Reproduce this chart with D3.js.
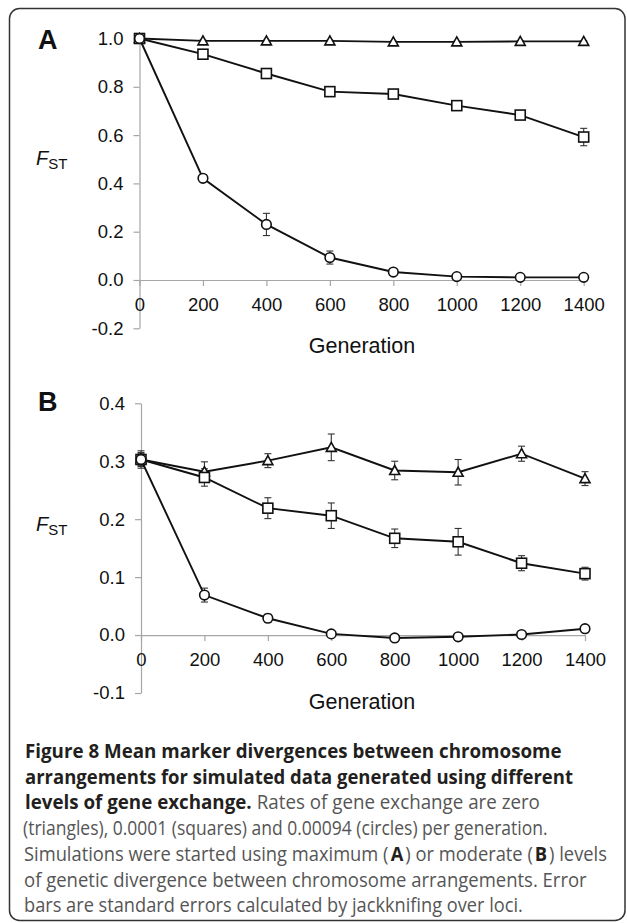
<!DOCTYPE html>
<html><head><meta charset="utf-8">
<script src="https://cdn.jsdelivr.net/npm/d3@7"></script>
<style>
html,body{margin:0;padding:0;background:#fff;}
svg{display:block;}
</style></head>
<body>
<svg id="fig" width="627" height="923"></svg>
<script>
// ---- data ----
const generations = [0, 200, 400, 600, 800, 1000, 1200, 1400];
const xTicks = [0, 200, 400, 600, 800, 1000, 1200, 1400];

// Panel A
const yTicksA = [-0.2, 0, 0.2, 0.4, 0.6, 0.8, 1.0];
const triA   = [1.0, 0.990, 0.990, 0.990, 0.986, 0.986, 0.988, 0.988];
const triAse = [0.003, 0.003, 0.003, 0.003, 0.003, 0.003, 0.003, 0.003];
const sqA    = [1.0, 0.935, 0.855, 0.780, 0.770, 0.722, 0.683, 0.592];
const sqAse  = [0.003, 0.005, 0.006, 0.006, 0.006, 0.008, 0.015, 0.036];
const ciA    = [1.0, 0.421, 0.230, 0.093, 0.033, 0.014, 0.011, 0.011];
const ciAse  = [0.003, 0.006, 0.046, 0.027, 0.007, 0.004, 0.003, 0.003];

// Panel B
const yTicksB = [-0.1, 0, 0.1, 0.2, 0.3, 0.4];
const triB   = [0.303, 0.282, 0.301, 0.324, 0.284, 0.281, 0.313, 0.270];
const triBse = [0.015, 0.017, 0.012, 0.023, 0.016, 0.022, 0.013, 0.012];
const sqB    = [0.303, 0.272, 0.219, 0.206, 0.167, 0.161, 0.124, 0.106];
const sqBse  = [0.012, 0.015, 0.018, 0.022, 0.016, 0.023, 0.013, 0.011];
const ciB    = [0.303, 0.069, 0.029, 0.002, -0.005, -0.003, 0.001, 0.011];
const ciBse  = [0.010, 0.012, 0.007, 0.003, 0.003, 0.003, 0.003, 0.003];

const captionLines = [
  [{t:"Figure 8 Mean marker divergences between chromosome", b:true}],
  [{t:"arrangements for simulated data generated using different", b:true}],
  [{t:"levels of gene exchange.", b:true}, {t:"Rates of gene exchange are zero", b:false}],
  [{t:"(triangles), 0.0001 (squares) and 0.00094 (circles) per generation.", b:false}],
  [{t:"Simulations were started using maximum (", b:false}, {t:"A", b:true}, {t:") or moderate (", b:false}, {t:"B", b:true}, {t:") levels", b:false}],
  [{t:"of genetic divergence between chromosome arrangements. Error", b:false}],
  [{t:"bars are standard errors calculated by jackknifing over loci.", b:false}]
];

// ---- drawing ----
const svg = d3.select("#fig");
const AX = "Liberation Sans, Arial, Helvetica, sans-serif";

svg.append("rect").attr("x", 9.5).attr("y", 8.5).attr("width", 615.5).attr("height", 912)
  .attr("rx", 10).attr("ry", 10).attr("fill", "none").attr("stroke", "#333").attr("stroke-width", 1.5);

function panel(cfg) {
  const x = d3.scaleLinear().domain([0, 1400]).range(cfg.xr);
  const y = d3.scaleLinear().domain(cfg.yd).range(cfg.yr);
  const g = svg.append("g");

  const ya = g.append("g").attr("transform", `translate(${cfg.xr[0]},0)`)
    .call(d3.axisLeft(y).tickValues(cfg.yTicks).tickSize(6).tickSizeOuter(0).tickPadding(10)
      .tickFormat(d3.format(".1f")));
  const xa = g.append("g").attr("transform", `translate(0,${y(0)})`)
    .call(d3.axisBottom(x).tickValues(xTicks).tickSize(6).tickSizeOuter(0).tickPadding(12)
      .tickFormat(d3.format("d")));
  [ya, xa].forEach(a => {
    a.select(".domain").attr("stroke", "#a6a6a6").attr("stroke-width", 1.2);
    a.selectAll(".tick line").attr("stroke", "#a6a6a6").attr("stroke-width", 1.2);
    a.selectAll(".tick text").attr("fill", "#111").attr("font-family", AX).attr("font-size", 18.5);
  });
  ya.selectAll(".tick text").text(d => d3.format(".1f")(d).replace("−", "-"));

  g.append("text").attr("x", 38).attr("y", cfg.letterY).text(cfg.letter)
    .attr("font-family", AX).attr("font-weight", "bold").attr("font-size", 27).attr("fill", "#111");
  const f = g.append("text").attr("x", 36).attr("y", cfg.fY).attr("font-family", AX).attr("fill", "#111");
  f.append("tspan").text("F").attr("font-style", "italic").attr("font-size", 20);
  f.append("tspan").text("ST").attr("font-size", 15).attr("dy", 4);
  g.append("text").attr("x", 362).attr("y", cfg.genY).attr("text-anchor", "middle")
    .attr("font-family", AX).attr("font-size", 21.5).attr("fill", "#111").text("Generation");

  const series = [
    {v: cfg.tri, se: cfg.triSe, m: "tri"},
    {v: cfg.sq, se: cfg.sqSe, m: "sq"},
    {v: cfg.ci, se: cfg.ciSe, m: "ci"}
  ];
  const line = d3.line().x((d, i) => x(generations[i])).y(d => y(d));
  series.forEach(s => {
    const eb = g.append("g").attr("stroke", "#333").attr("stroke-width", 1.1);
    s.v.forEach((v, i) => {
      const cx = x(generations[i]);
      const y1 = y(v + s.se[i]), y2 = y(v - s.se[i]);
      eb.append("line").attr("x1", cx).attr("x2", cx).attr("y1", y1).attr("y2", y2);
      eb.append("line").attr("x1", cx - 3.5).attr("x2", cx + 3.5).attr("y1", y1).attr("y2", y1);
      eb.append("line").attr("x1", cx - 3.5).attr("x2", cx + 3.5).attr("y1", y2).attr("y2", y2);
    });
  });
  series.forEach(s => {
    g.append("path").attr("d", line(s.v)).attr("fill", "none").attr("stroke", "#111").attr("stroke-width", 1.9);
  });
  series.forEach(s => {
    s.v.forEach((v, i) => {
      const cx = x(generations[i]), cy = y(v);
      let el;
      if (s.m === "sq") {
        el = g.append("rect").attr("x", cx - 5).attr("y", cy - 5).attr("width", 10).attr("height", 10);
      } else if (s.m === "ci") {
        el = g.append("circle").attr("cx", cx).attr("cy", cy).attr("r", 4.8);
      } else {
        el = g.append("path").attr("d", `M${cx},${cy - 5}L${cx + 5},${cy + 4}L${cx - 5},${cy + 4}Z`);
      }
      el.attr("fill", "#fff").attr("stroke", "#111").attr("stroke-width", 1.6);
    });
  });
}

panel({
  xr: [139.5, 583.7], yd: [-0.2, 1.0], yr: [328.3, 38.5], yTicks: yTicksA,
  tri: triA, triSe: triAse, sq: sqA, sqSe: sqAse, ci: ciA, ciSe: ciAse,
  letter: "A", letterY: 49, fY: 165, genY: 353
});
panel({
  xr: [141, 585], yd: [-0.1, 0.4], yr: [693, 403.3], yTicks: yTicksB,
  tri: triB, triSe: triBse, sq: sqB, sqSe: sqBse, ci: ciB, ciSe: ciBse,
  letter: "B", letterY: 411, fY: 531, genY: 709
});

// caption: parts laid out at natural width, then each line is squeezed horizontally
const capX = [25, 25, 25, 23, 24, 24, 24];
const capW = [537, 548, 515, 525, 583, 563, 499];
const CAPF = "Open Sans, Noto Sans, sans-serif";
const GAP = 2;
captionLines.forEach((parts, i) => {
  const yy = 758 + 25.7 * i;
  const lg = svg.append("g");
  const els = parts.map(p => lg.append("text").attr("y", 0)
    .attr("font-family", CAPF).attr("font-size", 19.5)
    .attr("font-weight", p.b ? "bold" : "normal")
    .attr("fill", p.b ? "#231f20" : "#555")
    .text(p.t));
  const widths = els.map(e => e.node().getComputedTextLength());
  // inter-part spacing: a word space after "exchange.", tiny gap around bold letters
  const spaceW = 5.2;
  let cx = 0;
  els.forEach((e, j) => {
    e.attr("x", cx);
    cx += widths[j] + (parts.length === 2 ? spaceW : GAP);
  });
  const total = cx - (parts.length === 2 ? spaceW : GAP);
  const k = capW[i] / total;
  lg.attr("transform", `translate(${capX[i]},${yy}) scale(${k},1)`);
});
</script>
</body></html>
